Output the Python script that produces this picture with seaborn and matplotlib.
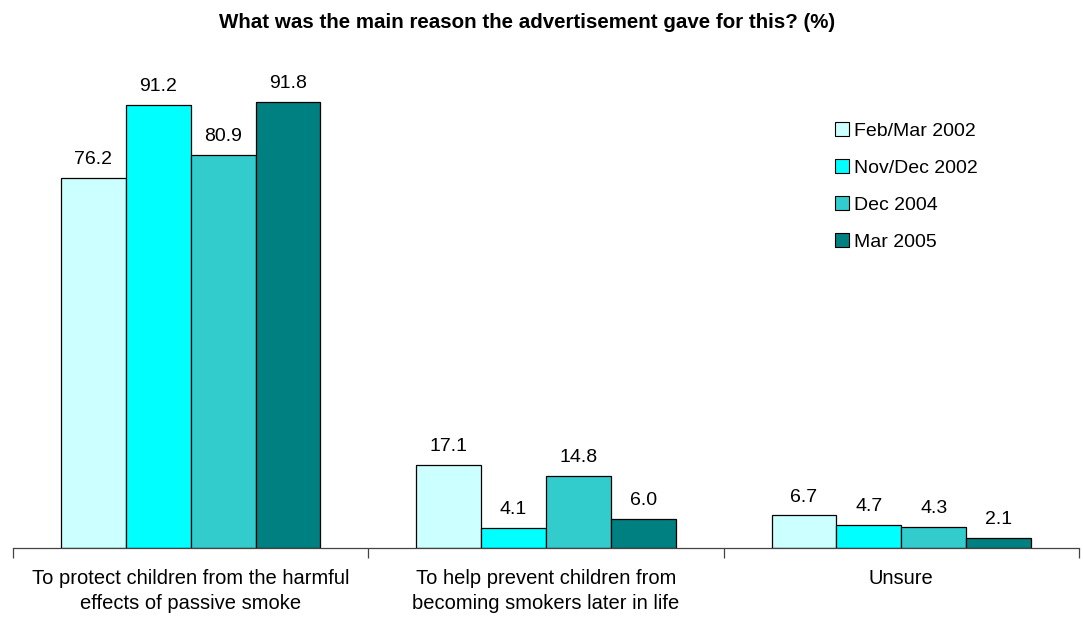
import matplotlib
matplotlib.use("Agg")
import matplotlib.pyplot as plt
import seaborn as sns
import pandas as pd
import numpy as np

categories = ["To protect children from the harmful\neffects of passive smoke",
              "To help prevent children from\nbecoming smokers later in life",
              "Unsure"]
series = ["Feb/Mar 2002", "Nov/Dec 2002", "Dec 2004", "Mar 2005"]
feb_mar_2002 = [76.2, 17.1, 6.7]
nov_dec_2002 = [91.2, 4.1, 4.7]
dec_2004 = [80.9, 14.8, 4.3]
mar_2005 = [91.8, 6.0, 2.1]
colors = ["#CCFFFF", "#00FFFF", "#33CCCC", "#008080"]

rows = []
for s, vals in zip(series, [feb_mar_2002, nov_dec_2002, dec_2004, mar_2005]):
    for c, v in zip(categories, vals):
        rows.append({"category": c, "series": s, "value": v})
df = pd.DataFrame(rows)

sns.set_theme(style="white")
plt.rcParams['font.family'] = ['Liberation Sans', 'DejaVu Sans']
plt.rcParams['text.color'] = 'black'
plt.rcParams['xtick.color'] = 'black'
plt.rcParams['xtick.labelcolor'] = 'black'

fig = plt.figure(figsize=(10.83, 6.17), dpi=100)
ax = fig.add_axes([13/1083, 69/617, (1079-13)/1083, (548-62)/617])

sns.barplot(data=df, x="category", y="value", hue="series", order=categories,
            hue_order=series, palette=colors, width=0.73, edgecolor="black",
            linewidth=0.9, ax=ax, errorbar=None, saturation=1)

for cont in ax.containers:
    ax.bar_label(cont, fmt="%.1f", padding=7, fontsize=14, color="black")

ax.set_ylim(0, 100)
ax.set_xlim(-0.5, 2.5)
ax.set_xlabel("")
ax.set_ylabel("")
ax.set_yticks([])
for sp in ["top", "right", "left"]:
    ax.spines[sp].set_visible(False)
ax.spines["bottom"].set_color("#444444")
ax.spines["bottom"].set_linewidth(0.9)

ax.set_xticks([0, 1, 2])
ax.set_xticklabels(categories, fontsize=14.5, color="black", linespacing=1.4)
ax.tick_params(axis="x", length=0, pad=15)
ax.set_xticks([-0.5, 0.5, 1.5, 2.5], minor=True)
ax.tick_params(axis="x", which="minor", length=7, width=0.9, color="#444444", direction="out", bottom=True)

leg = ax.legend(loc="upper left", bbox_to_anchor=((835 - 13)/1066, (548 - 122)/486), frameon=False,
                fontsize=14, handlelength=0.7, handleheight=0.7, handletextpad=0.3,
                labelspacing=1.0, borderaxespad=0, borderpad=0)
for h in leg.legend_handles:
    h.set_edgecolor("black")
    h.set_linewidth(0.8)
for t in leg.get_texts():
    t.set_color("black")

fig.text(0.5 - 14/1083, 1 - 22/617, "What was the main reason the advertisement gave for this? (%)",
         ha="center", va="center", fontsize=14.8, fontweight="bold", color="black")

fig.savefig("out.png", dpi=100)
